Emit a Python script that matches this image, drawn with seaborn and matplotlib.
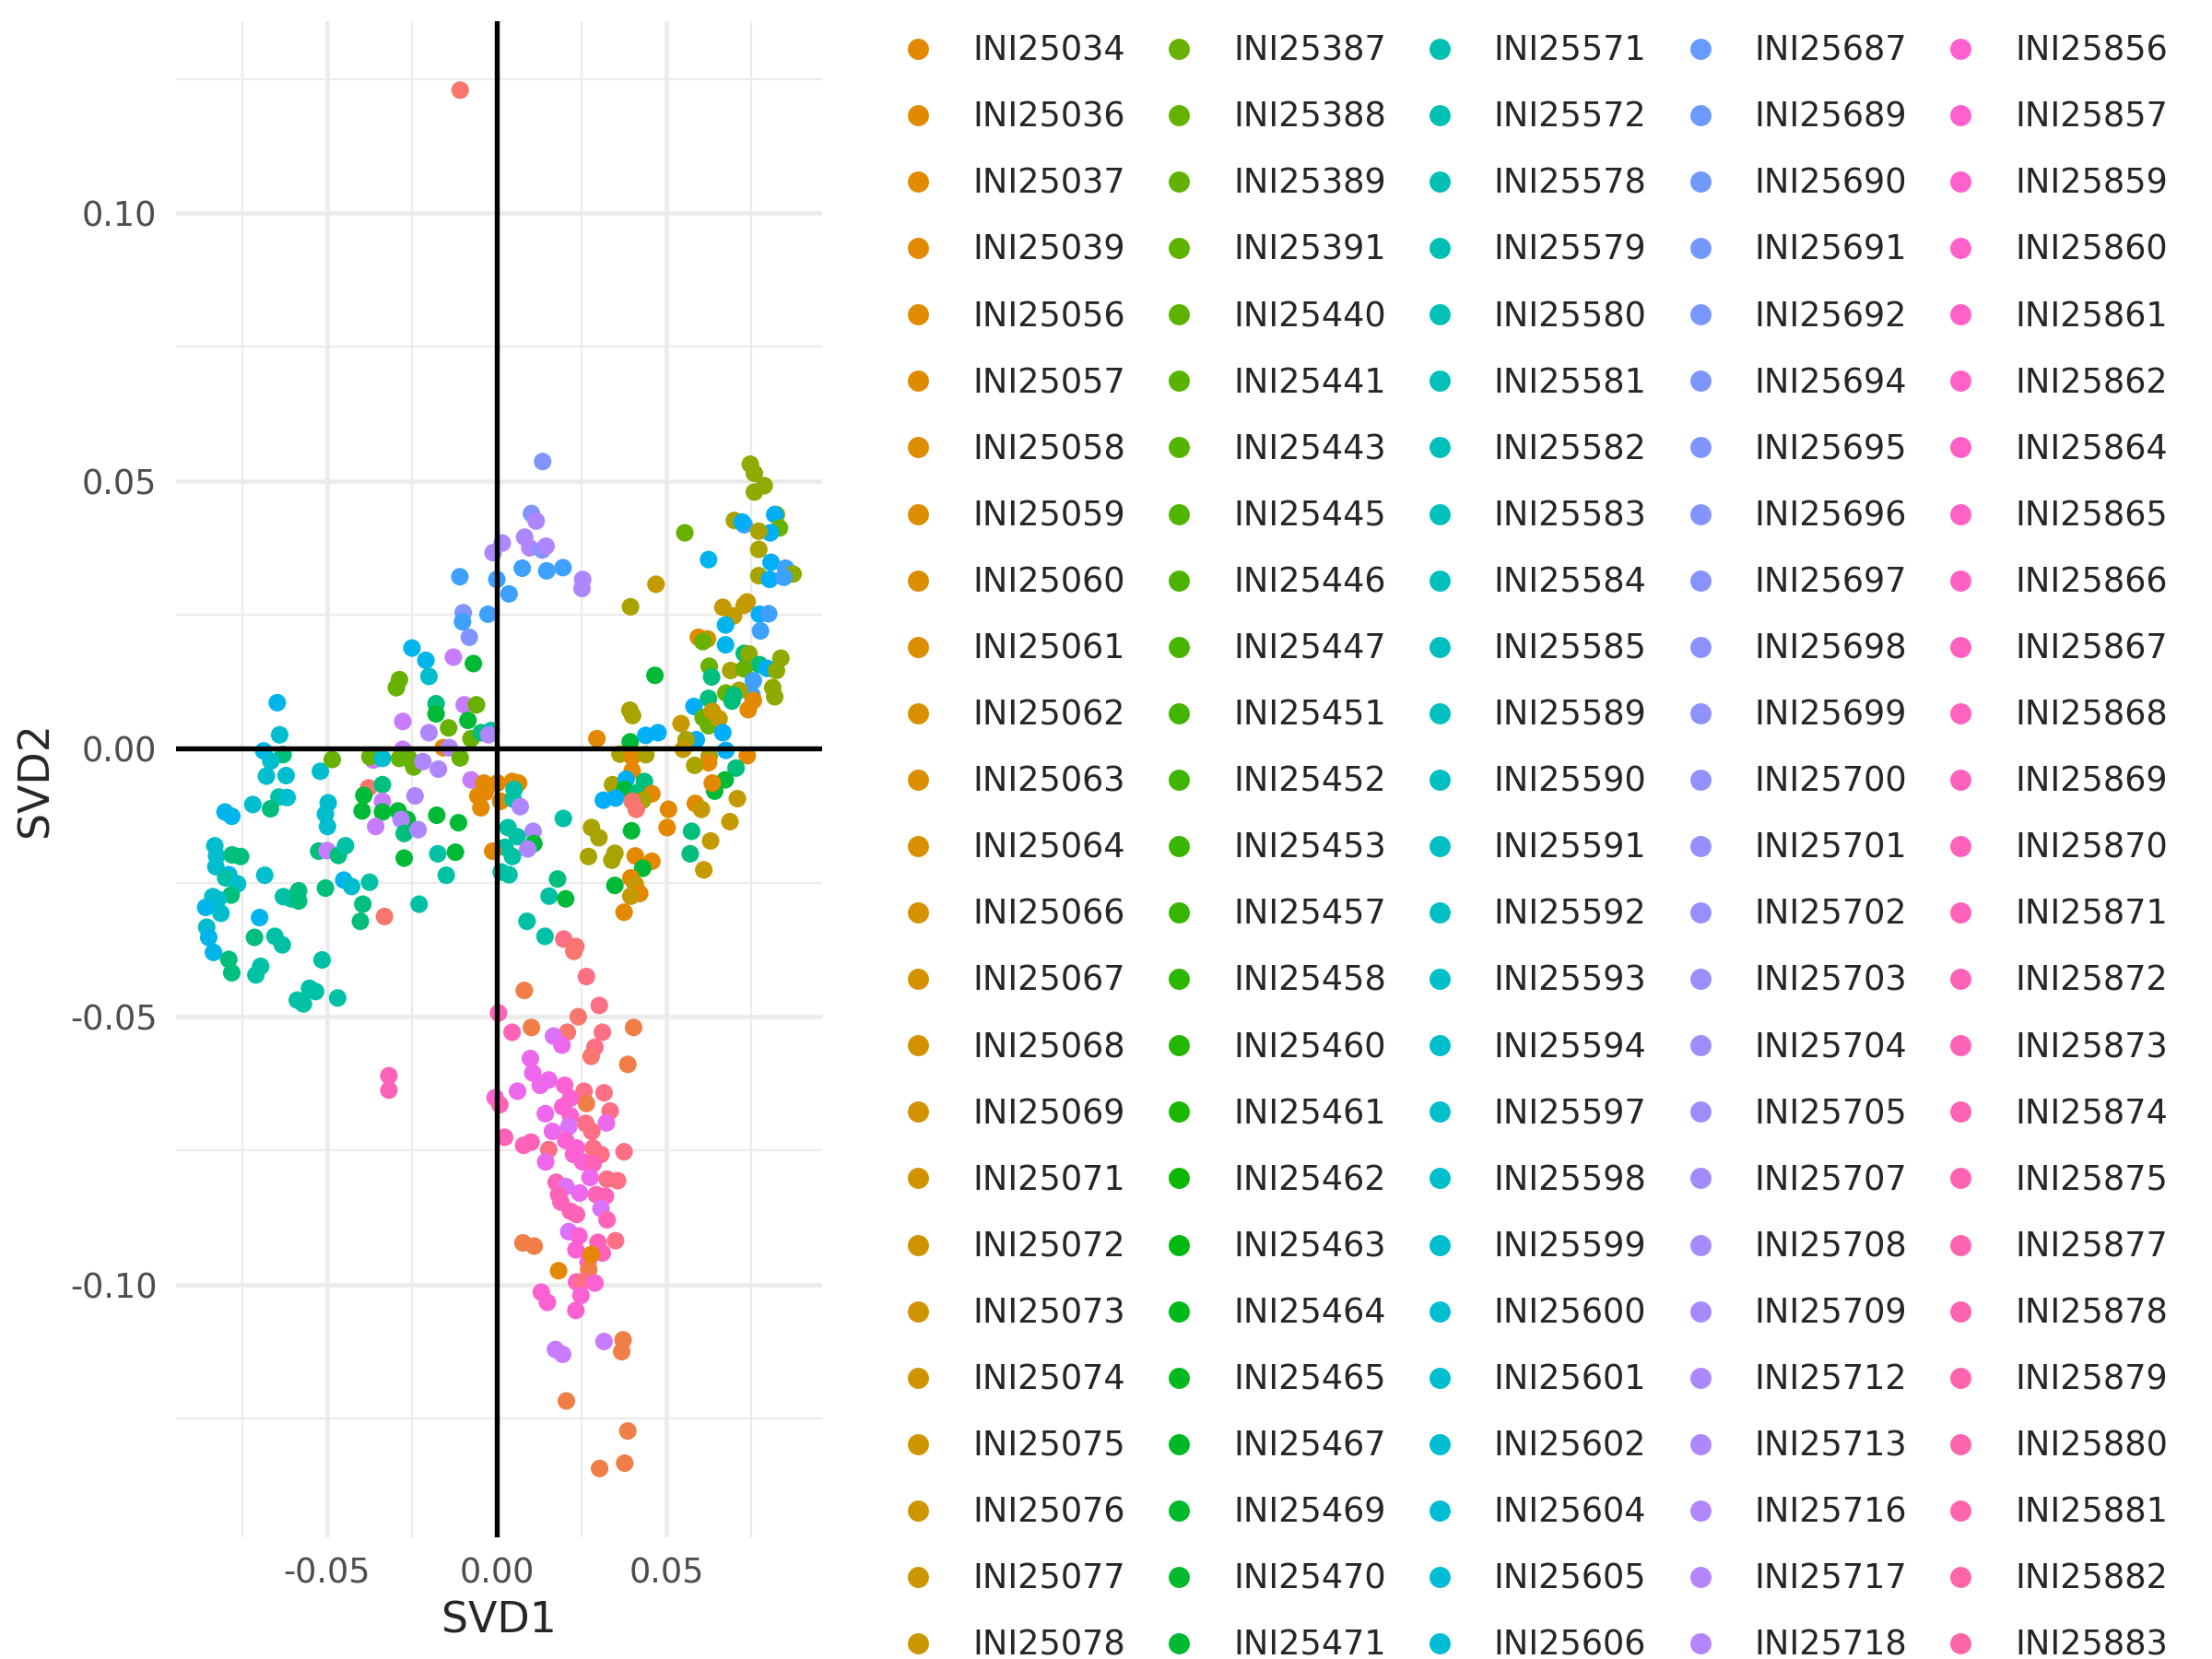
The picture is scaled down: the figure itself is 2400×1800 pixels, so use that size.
import numpy as np
import seaborn as sns
import matplotlib.pyplot as plt
from matplotlib.lines import Line2D

# sample ranks -> ggplot-style hue (15..375 deg) over all samples
N_SAMPLES = 400
ROWS_PER_COL = 80      # legend rows per column (only the middle ones fit on the page)
FIRST_SHOWN = 28

# legend labels that are visible in the picture, column by column
legend_cols = [
    ["INI25034", "INI25036", "INI25037", "INI25039", "INI25056", "INI25057", "INI25058",
     "INI25059", "INI25060", "INI25061", "INI25062", "INI25063", "INI25064", "INI25066",
     "INI25067", "INI25068", "INI25069", "INI25071", "INI25072", "INI25073", "INI25074",
     "INI25075", "INI25076", "INI25077", "INI25078"],
    ["INI25387", "INI25388", "INI25389", "INI25391", "INI25440", "INI25441", "INI25443",
     "INI25445", "INI25446", "INI25447", "INI25451", "INI25452", "INI25453", "INI25457",
     "INI25458", "INI25460", "INI25461", "INI25462", "INI25463", "INI25464", "INI25465",
     "INI25467", "INI25469", "INI25470", "INI25471"],
    ["INI25571", "INI25572", "INI25578", "INI25579", "INI25580", "INI25581", "INI25582",
     "INI25583", "INI25584", "INI25585", "INI25589", "INI25590", "INI25591", "INI25592",
     "INI25593", "INI25594", "INI25597", "INI25598", "INI25599", "INI25600", "INI25601",
     "INI25602", "INI25604", "INI25605", "INI25606"],
    ["INI25687", "INI25689", "INI25690", "INI25691", "INI25692", "INI25694", "INI25695",
     "INI25696", "INI25697", "INI25698", "INI25699", "INI25700", "INI25701", "INI25702",
     "INI25703", "INI25704", "INI25705", "INI25707", "INI25708", "INI25709", "INI25712",
     "INI25713", "INI25716", "INI25717", "INI25718"],
    ["INI25856", "INI25857", "INI25859", "INI25860", "INI25861", "INI25862", "INI25864",
     "INI25865", "INI25866", "INI25867", "INI25868", "INI25869", "INI25870", "INI25871",
     "INI25872", "INI25873", "INI25874", "INI25875", "INI25877", "INI25878", "INI25879",
     "INI25880", "INI25881", "INI25882", "INI25883"],
]

# approximate sample rank of each colour seen in the scatter
rank_of = {"R": 0, "S": 14, "O": 28, "Q": 56, "V": 76, "Y": 92, "G": 108, "N": 133,
           "T": 160, "E": 181, "C": 206, "B": 230, "U": 241, "L": 261, "W": 274,
           "A": 289, "P": 300, "M": 311, "K": 325, "H": 345, "I": 362, "F": 389}

# left cluster
left_x = [-0.0647, -0.0640, -0.0687, -0.0630, -0.0666, -0.0679, -0.0621, -0.0642, -0.0618, -0.0719,
          -0.0667, -0.0801, -0.0781, -0.0520, -0.0485, -0.0497, -0.0505, -0.0499, -0.0831, -0.0826,
          -0.0780, -0.0755, -0.0828, -0.0790, -0.0799, -0.0764, -0.0684, -0.0783, -0.0837, -0.0822,
          -0.0858, -0.0813, -0.0855, -0.0849, -0.0835, -0.0790, -0.0781, -0.0699, -0.0714, -0.0654,
          -0.0632, -0.0629, -0.0606, -0.0584, -0.0584, -0.0696, -0.0710, -0.0515, -0.0552, -0.0534,
          -0.0588, -0.0570, -0.0469, -0.0525, -0.0500, -0.0467, -0.0446, -0.0505, -0.0451, -0.0428,
          -0.0375, -0.0395, -0.0402]
left_y = [0.0086, 0.0026, -0.0004, -0.0011, -0.0023, -0.0051, -0.0050, -0.0090, -0.0091, -0.0104,
          -0.0112, -0.0118, -0.0126, -0.0042, -0.0020, -0.0101, -0.0122, -0.0145, -0.0181, -0.0200,
          -0.0198, -0.0201, -0.0220, -0.0235, -0.0241, -0.0252, -0.0236, -0.0273, -0.0276, -0.0281,
          -0.0296, -0.0307, -0.0333, -0.0352, -0.0380, -0.0393, -0.0418, -0.0315, -0.0352, -0.0350,
          -0.0366, -0.0276, -0.0280, -0.0265, -0.0284, -0.0406, -0.0422, -0.0394, -0.0447, -0.0453,
          -0.0469, -0.0476, -0.0465, -0.0191, -0.0190, -0.0199, -0.0181, -0.0260, -0.0245, -0.0257,
          -0.0249, -0.0290, -0.0322]
left_c = "BCBTCCCECCTBBCGCCCCCTTCBECCTCCBCCBBTTBTEEEETTEEEEEEEETPTETBCETT"

# centre-left group
midl_x = [-0.0081, -0.0250, -0.0209, -0.0200, -0.0128, -0.0069, -0.0287, -0.0296, -0.0179, -0.0179,
          -0.0096, -0.0060, -0.0085, -0.0142, -0.0277, -0.0200, -0.0076, -0.0046, -0.0017, -0.0024,
          -0.0158, -0.0140, -0.0277, -0.0287, -0.0259, -0.0245, -0.0218, -0.0172, -0.0108, -0.0364,
          -0.0374, -0.0337, -0.0378, -0.0337, -0.0392, -0.0337, -0.0397, -0.0337, -0.0291, -0.0264,
          -0.0282, -0.0273, -0.0357, -0.0232, -0.0241, -0.0076, -0.0177, -0.0113, -0.0273, -0.0174,
          -0.0122, -0.0149, -0.0229, -0.0331, -0.0056]
midl_y = [0.0208, 0.0188, 0.0165, 0.0135, 0.0171, 0.0159, 0.0129, 0.0114, 0.0084, 0.0065,
          0.0082, 0.0082, 0.0053, 0.0039, 0.0051, 0.0030, 0.0019, 0.0030, 0.0034, 0.0026,
          0.0002, 0.0002, -0.0001, -0.0018, -0.0018, -0.0034, -0.0024, -0.0038, -0.0017, -0.0021,
          -0.0015, -0.0018, -0.0073, -0.0067, -0.0087, -0.0098, -0.0116, -0.0118, -0.0116, -0.0132,
          -0.0132, -0.0158, -0.0145, -0.0151, -0.0088, -0.0058, -0.0124, -0.0138, -0.0204, -0.0196,
          -0.0193, -0.0236, -0.0290, -0.0313, -0.0088]
midl_c = "WBBCPNGGTNPGNGPAGTEAOAPGGGAAGPGCRTNPNNNNATPAAPNNNENEERO"

# centre group around the origin and to its right
mid_x = [0.0295, 0.0393, 0.0439, 0.0475, 0.0363, 0.0399, 0.0439, 0.0399, 0.0341, 0.0381,
         0.0377, 0.0435, 0.0417, 0.0457, 0.0430, 0.0314, 0.0350, 0.0399, 0.0411, 0.0506,
         0.0502, 0.0279, 0.0301, 0.0397, 0.0270, 0.0348, 0.0339, 0.0408, 0.0457, 0.0430,
         0.0395, 0.0408, 0.0348, 0.0421, 0.0395, 0.0375, -0.0038, 0.0002, 0.0046, 0.0064,
         -0.0034, -0.0047, 0.0011, 0.0051, 0.0048, 0.0069, 0.0196, 0.0033, 0.0107, 0.0060,
         0.0109, 0.0024, 0.0091, 0.0046, -0.0012, 0.0013, 0.0036, 0.0179, 0.0154, 0.0203,
         0.0089, 0.0392, 0.0400]
mid_y = [0.0019, 0.0013, 0.0025, 0.0030, -0.0010, -0.0015, -0.0011, -0.0041, -0.0067, -0.0057,
         -0.0076, -0.0061, -0.0081, -0.0084, -0.0096, -0.0096, -0.0092, -0.0098, -0.0113, -0.0113,
         -0.0147, -0.0147, -0.0166, -0.0153, -0.0201, -0.0195, -0.0208, -0.0200, -0.0210, -0.0223,
         -0.0241, -0.0253, -0.0255, -0.0270, -0.0275, -0.0305, -0.0064, -0.0064, -0.0061, -0.0064,
         -0.0081, -0.0110, -0.0098, -0.0076, -0.0094, -0.0108, -0.0130, -0.0147, -0.0154, -0.0164,
         -0.0177, -0.0184, -0.0187, -0.0201, -0.0191, -0.0230, -0.0235, -0.0243, -0.0275, -0.0280,
         -0.0322, 0.0072, 0.0062]
mid_c = "ONUUVOVOVUNTTOVUURROOVVNVVVOONOQNOQOOOOOOOOEEAEEAENEAEOEETENEVV"

# upper blue / lavender group
top_x = [0.0135, 0.0102, 0.0116, 0.0082, 0.0097, 0.0134, 0.0145, 0.0016, -0.0011, 0.0075,
         0.0147, 0.0195, 0.0253, 0.0251, -0.0109, 0.0000, 0.0036, -0.0026, -0.0099, -0.0101,
         -0.0108]
top_y = [0.0536, 0.0439, 0.0425, 0.0395, 0.0375, 0.0371, 0.0378, 0.0384, 0.0366, 0.0337,
         0.0332, 0.0338, 0.0316, 0.0299, 0.0321, 0.0316, 0.0289, 0.0251, 0.0254, 0.0237,
         0.1229]
top_c = "WWAAAWAAALLLAALLLLWLR"

# right group
right_x = [0.0747, 0.0759, 0.0788, 0.0759, 0.0554, 0.0700, 0.0729, 0.0723, 0.0824, 0.0819,
           0.0833, 0.0806, 0.0772, 0.0772, 0.0624, 0.0808, 0.0851, 0.0873, 0.0772, 0.0804,
           0.0846, 0.0469, 0.0394, 0.0666, 0.0698, 0.0729, 0.0738, 0.0774, 0.0801, 0.0674,
           0.0777, 0.0594, 0.0621, 0.0607, 0.0674, 0.0729, 0.0743, 0.0837, 0.0689, 0.0626,
           0.0633, 0.0774, 0.0797, 0.0824, 0.0729, 0.0756, 0.0752, 0.0466, 0.0813, 0.0819,
           0.0714, 0.0675, 0.0693, 0.0698, 0.0624, 0.0581, 0.0741, 0.0756, 0.0608, 0.0624,
           0.0635, 0.0655, 0.0543, 0.0666, 0.0588, 0.0558, 0.0549, 0.0675, 0.0626, 0.0624,
           0.0583, 0.0738, 0.0705, 0.0673, 0.0642, 0.0635, 0.0709, 0.0585, 0.0603, 0.0687,
           0.0574, 0.0630, 0.0570, 0.0610]
right_y = [0.0531, 0.0514, 0.0491, 0.0479, 0.0403, 0.0426, 0.0418, 0.0423, 0.0437, 0.0437,
           0.0412, 0.0403, 0.0406, 0.0372, 0.0353, 0.0348, 0.0337, 0.0326, 0.0323, 0.0316,
           0.0320, 0.0307, 0.0265, 0.0264, 0.0248, 0.0268, 0.0274, 0.0251, 0.0252, 0.0231,
           0.0220, 0.0208, 0.0205, 0.0200, 0.0194, 0.0178, 0.0177, 0.0169, 0.0146, 0.0154,
           0.0134, 0.0157, 0.0150, 0.0146, 0.0149, 0.0127, 0.0100, 0.0137, 0.0114, 0.0097,
           0.0109, 0.0104, 0.0089, 0.0100, 0.0094, 0.0079, 0.0073, 0.0090, 0.0058, 0.0043,
           0.0070, 0.0056, 0.0047, 0.0030, 0.0017, 0.0017, -0.0001, -0.0003, -0.0014, -0.0026,
           -0.0031, -0.0013, -0.0036, -0.0058, -0.0079, -0.0064, -0.0093, -0.0102, -0.0113, -0.0136,
           -0.0154, -0.0172, -0.0196, -0.0226]
right_c = "YYYYGVLUYUGUVVBULYVULQVQQQQULBLOQGBTYYVGTTUYGLLNYYVGTTTUOOGGQQQUUVQUVOVOTNNOQOQQTQTQ"

# lower pink / salmon group
low_x = [0.0142, 0.0197, 0.0233, 0.0227, 0.0264, 0.0081, 0.0302, 0.0005, 0.0045, 0.0102,
         0.0240, 0.0208, 0.0167, 0.0192, 0.0311, 0.0289, 0.0278, 0.0403, 0.0386, 0.0099,
         0.0106, 0.0153, 0.0128, 0.0061, 0.0200, -0.0005, 0.0009, 0.0257, 0.0316, 0.0264,
         0.0217, 0.0194, 0.0217, 0.0143, 0.0334, 0.0323, 0.0262, 0.0280, 0.0212, 0.0164,
         0.0023, 0.0079, 0.0101, 0.0153, 0.0203, 0.0235, 0.0226, 0.0284, 0.0307, 0.0375,
         0.0144, 0.0253, 0.0284, 0.0275, 0.0325, 0.0356, 0.0175, 0.0204, 0.0244, 0.0182,
         0.0293, 0.0320, 0.0189, 0.0307, 0.0217, 0.0235, 0.0325, 0.0212, 0.0242, 0.0233,
         0.0298, 0.0311, 0.0350, 0.0077, 0.0110, 0.0182, 0.0269, 0.0271, 0.0278, 0.0235,
         0.0253, 0.0289, 0.0248, 0.0131, 0.0149, 0.0233, 0.0173, 0.0194, 0.0316, 0.0372,
         0.0368, 0.0205, 0.0386, 0.0377, 0.0303, -0.0318, -0.0318]
low_y = [-0.0350, -0.0355, -0.0369, -0.0378, -0.0425, -0.0451, -0.0479, -0.0493, -0.0529, -0.0520,
         -0.0500, -0.0529, -0.0536, -0.0553, -0.0529, -0.0557, -0.0574, -0.0520, -0.0589, -0.0578,
         -0.0605, -0.0618, -0.0628, -0.0639, -0.0628, -0.0651, -0.0664, -0.0639, -0.0642, -0.0662,
         -0.0652, -0.0668, -0.0685, -0.0681, -0.0676, -0.0698, -0.0699, -0.0714, -0.0705, -0.0714,
         -0.0725, -0.0740, -0.0734, -0.0748, -0.0731, -0.0745, -0.0757, -0.0745, -0.0757, -0.0752,
         -0.0771, -0.0771, -0.0774, -0.0800, -0.0803, -0.0806, -0.0809, -0.0817, -0.0829, -0.0832,
         -0.0832, -0.0835, -0.0846, -0.0858, -0.0863, -0.0869, -0.0879, -0.0901, -0.0909, -0.0935,
         -0.0921, -0.0941, -0.0918, -0.0922, -0.0928, -0.0974, -0.0958, -0.0972, -0.0944, -0.0995,
         -0.0994, -0.0997, -0.1020, -0.1014, -0.1033, -0.1048, -0.1121, -0.1130, -0.1106, -0.1103,
         -0.1125, -0.1217, -0.1273, -0.1333, -0.1343, -0.0610, -0.0637]
low_c = "EFRRFSFIISRRMKFFRSSKKKKKHHIFFSHHHKFKFFMKIIIFHHHFFFKHIKFFIMKIIIIMIIIMHHIIFSSOHSOIFHHHHHPPPSSSSSSII"


def hcl_hex(h, c=100.0, l=65.0):
    # polar LUV -> sRGB, like R's hcl() used by ggplot's default hue scale
    hr = np.deg2rad(h)
    u, v = c * np.cos(hr), c * np.sin(hr)
    Y = ((l + 16) / 116) ** 3
    xn, yn, zn = 0.95047, 1.0, 1.08883
    un = 4 * xn / (xn + 15 * yn + 3 * zn)
    vn = 9 * yn / (xn + 15 * yn + 3 * zn)
    up = u / (13 * l) + un
    vp = v / (13 * l) + vn
    X = 9 * Y * up / (4 * vp)
    Z = Y * (12 - 3 * up - 20 * vp) / (4 * vp)
    M = np.array([[3.240479, -1.537150, -0.498535],
                  [-0.969256, 1.875992, 0.041556],
                  [0.055648, -0.204043, 1.057311]])
    lin = M @ np.array([X, Y, Z])
    rgb = np.where(lin > 0.0031308, 1.055 * np.abs(lin) ** (1 / 2.4) - 0.055, 12.92 * lin)
    rgb = np.clip(rgb, 0, 1)
    return "#%02x%02x%02x" % tuple(int(round(x * 255)) for x in rgb)


def rank_colour(r):
    return hcl_hex(15 + 360.0 * r / N_SAMPLES)


svd1 = left_x + midl_x + mid_x + top_x + right_x + low_x
svd2 = left_y + midl_y + mid_y + top_y + right_y + low_y
ranks = [rank_of[k] for k in left_c + midl_c + mid_c + top_c + right_c + low_c]
palette = {r: rank_colour(r) for r in set(ranks)}

sns.set_style("white")
plt.rcParams['font.family'] = ['DejaVu Sans']

fig = plt.figure(figsize=(8, 6), dpi=300)
ax = fig.add_axes([0.0797, 0.0733, 0.2921, 0.9139])

sns.scatterplot(x=svd1, y=svd2, hue=ranks, palette=palette, legend=False,
                s=21, linewidth=0, alpha=1, ax=ax, zorder=3)

ax.axhline(0, color="black", lw=1.3, zorder=4)
ax.axvline(0, color="black", lw=1.3, zorder=4)

xr = max(svd1) - min(svd1)
yr = max(svd2) - min(svd2)
ax.set_xlim(min(svd1) - 0.05 * xr, max(svd1) + 0.05 * xr)
ax.set_ylim(min(svd2) - 0.05 * yr, max(svd2) + 0.05 * yr)

ax.set_xticks([-0.05, 0.0, 0.05])
ax.set_xticklabels(["-0.05", "0.00", "0.05"])
ax.set_xticks([-0.075, -0.025, 0.025, 0.075], minor=True)
ax.set_yticks([-0.10, -0.05, 0.0, 0.05, 0.10])
ax.set_yticklabels(["-0.10", "-0.05", "0.00", "0.05", "0.10"])
ax.set_yticks([-0.125, -0.075, -0.025, 0.025, 0.075, 0.125], minor=True)
ax.grid(True, which="major", color="#EBEBEB", lw=1.1, zorder=0)
ax.grid(True, which="minor", color="#EBEBEB", lw=0.55, zorder=0)
ax.set_axisbelow(True)
ax.tick_params(which="both", length=0, labelsize=8.8, labelcolor="#4D4D4D", pad=5)
for s in ax.spines.values():
    s.set_visible(False)
ax.set_xlabel("SVD1", fontsize=11, labelpad=2.5)
ax.set_ylabel("SVD2", fontsize=11, labelpad=3.5)

handles = []
labels = []
for ci, col in enumerate(legend_cols):
    for ri, lab in enumerate(col):
        r = ci * ROWS_PER_COL + FIRST_SHOWN + ri
        handles.append(Line2D([], [], marker="o", linestyle="", markersize=5.5,
                              markeredgewidth=0, color=rank_colour(r)))
        labels.append(lab)

fig.legend(handles, labels, ncol=5, loc="upper left", bbox_to_anchor=(0.4074, 0.9796),
           frameon=False, fontsize=8.8, handlelength=1.0, handletextpad=1.11,
           columnspacing=1.08, labelspacing=0.957, borderpad=0, borderaxespad=0)

fig.savefig("out.png", dpi=300)
